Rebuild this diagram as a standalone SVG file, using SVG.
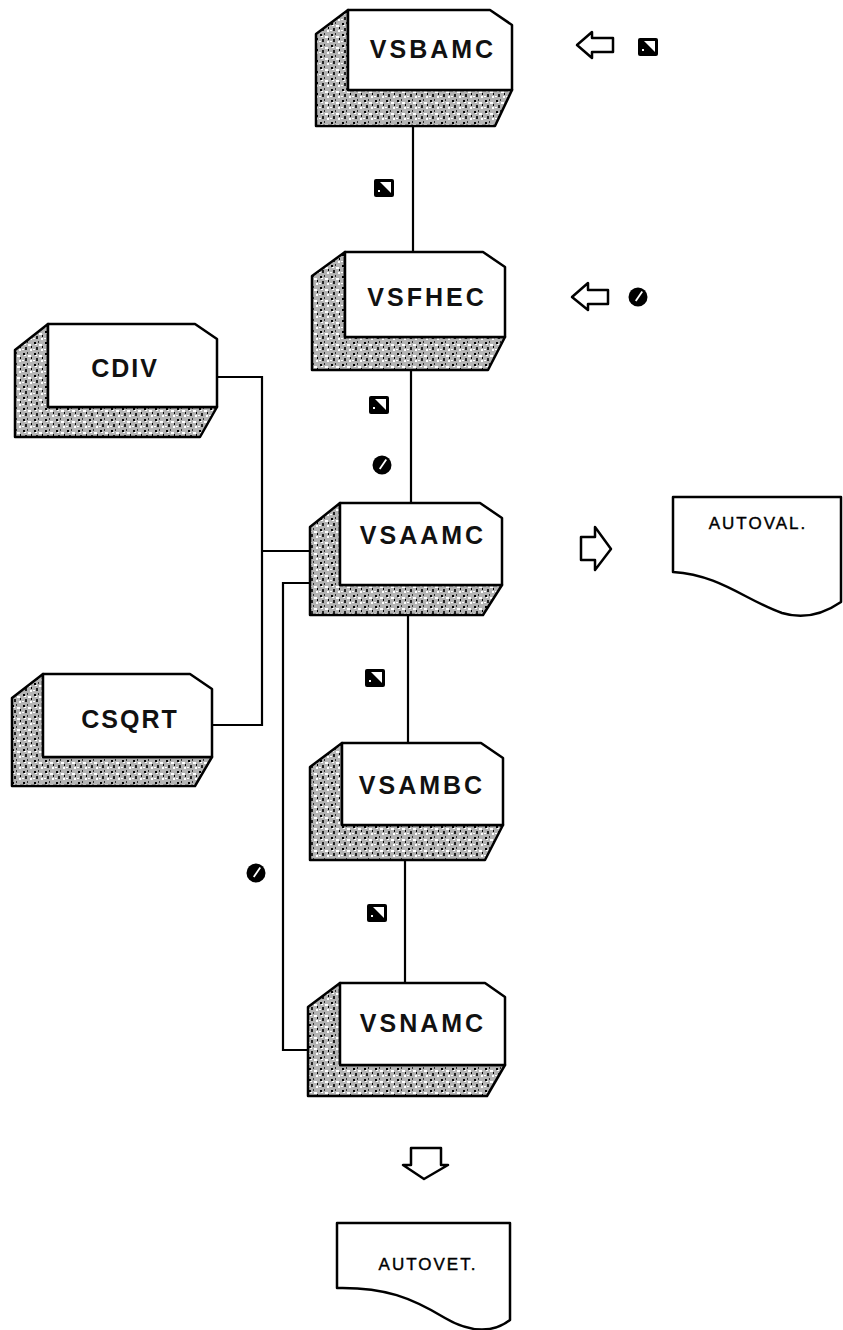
<svg xmlns="http://www.w3.org/2000/svg" width="843" height="1330" viewBox="0 0 843 1330">
<defs>
<pattern id="spk" width="11" height="11" patternUnits="userSpaceOnUse">
<rect width="11" height="11" fill="#b4b4b4"/>
<rect x="1" y="1" width="2" height="2" fill="#000"/>
<rect x="6" y="3" width="3" height="2" fill="#fff"/>
<rect x="3" y="6" width="2" height="3" fill="#222"/>
<rect x="8" y="8" width="2" height="2" fill="#fff"/>
<rect x="0" y="8" width="2" height="1" fill="#fff"/>
<rect x="5" y="0" width="1" height="2" fill="#333"/>
<rect x="9" y="5" width="1" height="2" fill="#000"/>
<rect x="2" y="3" width="2" height="1" fill="#fff"/>
</pattern>
<symbol id="sq" viewBox="0 0 20 18" overflow="visible">
<rect x="0" y="0" width="20" height="18" rx="2" fill="#000"/>
<polygon points="6,3 17,3 17,14" fill="#fff"/>
<rect x="4" y="11" width="2" height="2" fill="#fff"/>
</symbol>
<symbol id="ci" viewBox="0 0 20 20" overflow="visible">
<circle cx="10" cy="10" r="9.5" fill="#000"/>
<path d="M13.5,4 L7,13.5 L8.5,14.5 L15,5 Z" fill="#fff"/>
</symbol>
</defs>
<style>
.sh{fill:url(#spk);stroke:#000;stroke-width:2.5;stroke-linejoin:round}
.fr{fill:#fff;stroke:#000;stroke-width:2.5;stroke-linejoin:round}
.t{font-family:"Liberation Sans",Arial,sans-serif;font-weight:bold;font-size:25px;letter-spacing:3px;text-anchor:middle;fill:#111}
.c{letter-spacing:2px}
.d{font-family:"Liberation Sans",Arial,sans-serif;font-size:17px;letter-spacing:2px;text-anchor:middle;fill:#000;stroke:#000;stroke-width:0.4}
.ln{fill:none;stroke:#000;stroke-width:2.2}
.ar{fill:#fff;stroke:#000;stroke-width:2.5;stroke-linejoin:round}
</style>
<rect width="843" height="1330" fill="#fff"/>

<g id="connectors">
<path class="ln" d="M413,127 V252"/>
<path class="ln" d="M411,370 V503"/>
<path class="ln" d="M408,615 V743"/>
<path class="ln" d="M405,860 V983"/>
<path class="ln" d="M217,377 H262 V725 H212"/>
<path class="ln" d="M262,551 H310"/>
<path class="ln" d="M310,583 H283 V1050 H308"/>
</g>

<g id="VSBAMC">
<polygon class="sh" points="348,10 316,34 316,126 495,126 512,90 348,90"/>
<path class="fr" d="M348,10 H490 L512,25 V90 H348 Z"/>
<text class="t" x="433" y="58">VSBAMC</text>
</g>

<g id="VSFHEC">
<polygon class="sh" points="345,252 312,276 312,370 488,370 505,337 345,337"/>
<path class="fr" d="M345,252 H483 L505,267 V337 H345 Z"/>
<text class="t" x="427" y="306">VSFHEC</text>
</g>

<g id="CDIV">
<polygon class="sh" points="48,324 15,350 15,437 200,437 217,407 48,407"/>
<path class="fr" d="M48,324 H195 L217,339 V407 H48 Z"/>
<text class="t c" x="125" y="377">CDIV</text>
</g>

<g id="VSAAMC">
<polygon class="sh" points="340,503 310,527 310,615 483,615 502,585 340,585"/>
<path class="fr" d="M340,503 H480 L502,518 V585 H340 Z"/>
<text class="t" x="423" y="544">VSAAMC</text>
</g>

<g id="CSQRT">
<polygon class="sh" points="43,674 12,698 12,786 195,786 212,757 43,757"/>
<path class="fr" d="M43,674 H190 L212,689 V757 H43 Z"/>
<text class="t c" x="130" y="728">CSQRT</text>
</g>

<g id="VSAMBC">
<polygon class="sh" points="342,743 310,767 310,860 485,860 503,825 342,825"/>
<path class="fr" d="M342,743 H481 L503,758 V825 H342 Z"/>
<text class="t" x="422" y="794">VSAMBC</text>
</g>

<g id="VSNAMC">
<polygon class="sh" points="340,983 308,1007 308,1096 487,1096 505,1065 340,1065"/>
<path class="fr" d="M340,983 H485 L505,997 V1065 H340 Z"/>
<text class="t" x="423" y="1032">VSNAMC</text>
</g>

<g id="AUTOVAL">
<path class="fr" d="M673,497 H841 V602 C825,613 805,620 782,613 C745,600 720,575 673,572 Z"/>
<text class="d" x="758" y="529">AUTOVAL.</text>
</g>

<g id="AUTOVET">
<path class="fr" d="M337,1223 H510 V1320 C495,1332 472,1334 445,1318 C412,1298 385,1287 337,1288 Z"/>
<text class="d" x="428" y="1270" font-size="18">AUTOVET.</text>
</g>

<g id="arrows">
<path class="ar" d="M577,45 L592,32 L592,38 L613,38 L613,52 L592,52 L592,58 Z"/>
<path class="ar" d="M572,297 L588,283 L588,290 L608,290 L608,304 L588,304 L588,310 Z"/>
<path class="ar" d="M581,537 L595,537 L595,527 L611,549 L595,570 L595,560 L581,560 Z"/>
<path class="ar" d="M411,1148 L441,1148 L441,1165 L448,1165 L424,1179 L403,1165 L411,1165 Z"/>
</g>

<g id="icons">
<use href="#sq" x="638" y="38" width="20" height="18"/>
<use href="#ci" x="628" y="287" width="20" height="20"/>
<use href="#sq" x="374" y="179" width="20" height="18"/>
<use href="#sq" x="369" y="396" width="20" height="18"/>
<use href="#ci" x="372" y="455" width="20" height="20"/>
<use href="#sq" x="365" y="669" width="20" height="18"/>
<use href="#sq" x="367" y="904" width="20" height="18"/>
<use href="#ci" x="246" y="863" width="20" height="20"/>
</g>
</svg>
